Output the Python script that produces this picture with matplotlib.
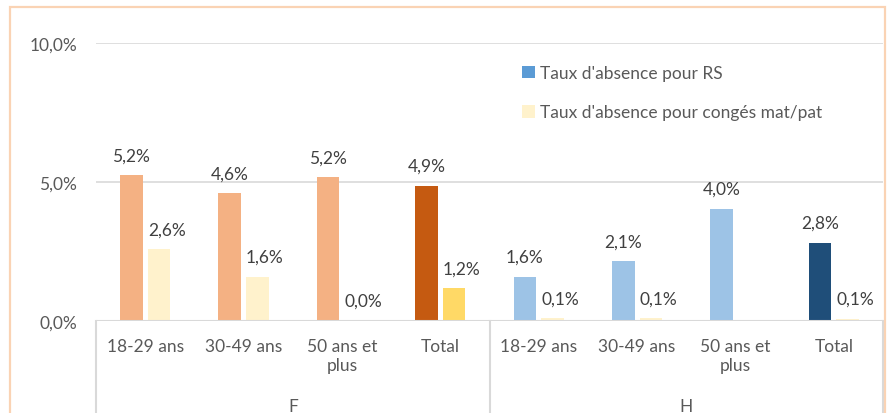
import numpy as np
import matplotlib
matplotlib.use("Agg")
import matplotlib.pyplot as plt
from matplotlib.patches import Patch, Rectangle
from matplotlib.transforms import blended_transform_factory, offset_copy

plt.rcParams["font.family"] = ["Lato", "DejaVu Sans"]

# data (percent)
groups = ["F", "H"]
ages = ["18-29 ans", "30-49 ans", "50 ans et\nplus", "Total"]
rs_f = [5.24, 4.59, 5.16, 4.86]
mat_f = [2.57, 1.57, 0.0, 1.17]
rs_h = [1.57, 2.14, 4.02, 2.80]
mat_h = [0.08, 0.09, np.nan, 0.06]
yticks = [0, 5, 10]
legend_labels = ["Taux d'absence pour RS", "Taux d'absence pour congés mat/pat"]

# styles
RS_COLORS = ["#F4B183"] * 3 + ["#C55A11"] + ["#9DC3E6"] * 3 + ["#1F4E79"]
MAT_COLORS = ["#FFF2CC"] * 3 + ["#FFD966"] + ["#FFF2CC"] * 4
LEGEND_COLORS = ["#5B9BD5", "#FFF2CC"]
TEXT = "#595959"
GRID = "#D9D9D9"
FS = 12.5
W, H = 888, 414


def pct(v):
    return f"{v:.1f}".replace(".", ",") + "%"


rs = rs_f + rs_h
mat = mat_f + mat_h
x = np.arange(len(rs))
bw = 0.23
off = 0.14

fig = plt.figure(figsize=(W / 100, H / 100), dpi=100)
ax = fig.add_axes([96 / W, (H - 321.7) / H, (883 - 96) / W, (321.7 - 44) / H])

ax.bar(x - off, rs, bw, color=RS_COLORS, zorder=3)
ax.bar(x + off, mat, bw, color=MAT_COLORS, zorder=3)

for xi, v in zip(x, rs):
    ax.annotate(pct(v), (xi - off, v), xytext=(0, 14.4), textcoords="offset points",
                ha="center", va="center", fontsize=FS, color="#404040")
for xi, v in zip(x, mat):
    if np.isnan(v):
        continue
    ax.annotate(pct(v), (xi + off, v), xytext=(5.5, 14.4), textcoords="offset points",
                ha="center", va="center", fontsize=FS, color="#404040")

ax.set_xlim(-0.5, len(rs) - 0.5)
ax.set_ylim(0, 10)
ax.set_yticks(yticks)
ax.set_yticklabels([pct(t) for t in yticks])
ax.tick_params(axis="y", length=0, pad=13.5, labelsize=FS, labelcolor=TEXT)
ax.set_xticks([])
for s in ax.spines.values():
    s.set_visible(False)
ax.grid(axis="y", color=GRID, linewidth=1.2, zorder=0)
ax.axhline(0, color=GRID, linewidth=1.5, zorder=4)

# category axis box below the plot
tr = blended_transform_factory(ax.transData, ax.transAxes)
for xb in [-0.5, 3.5, len(rs) - 0.5]:
    ax.plot([xb, xb], [0, -0.5], transform=tr, color=GRID, linewidth=1.5, clip_on=False)

tick_tr = offset_copy(tr, fig=fig, x=0, y=-17, units="dots")
for xi, lab in zip(x, ages * len(groups)):
    ax.text(xi, 0, lab, transform=tick_tr, ha="center", va="top", fontsize=FS,
            color=TEXT, linespacing=1.25)

grp_tr = offset_copy(tr, fig=fig, x=0, y=-85, units="dots")
for i, g in enumerate(groups):
    ax.text(i * 4 + 1.5, 0, g, transform=grp_tr, ha="center", va="center",
            fontsize=FS, color=TEXT)

handles = [Patch(facecolor=c, edgecolor="none") for c in LEGEND_COLORS]
fig.legend(handles, legend_labels, loc="upper left",
           bbox_to_anchor=(522 / W, 1 - 66 / H), frameon=False, fontsize=FS,
           labelcolor=TEXT, handlelength=0.72, handleheight=0.72,
           handletextpad=0.3, labelspacing=1.35, borderpad=0, borderaxespad=0)

fig.patches.append(Rectangle((10 / W, -0.1), (885 - 10) / W, 1.1 - 8 / H,
                             transform=fig.transFigure, fill=False,
                             edgecolor="#FAD3B4", linewidth=1.6))

fig.savefig("out.png", dpi=100)
